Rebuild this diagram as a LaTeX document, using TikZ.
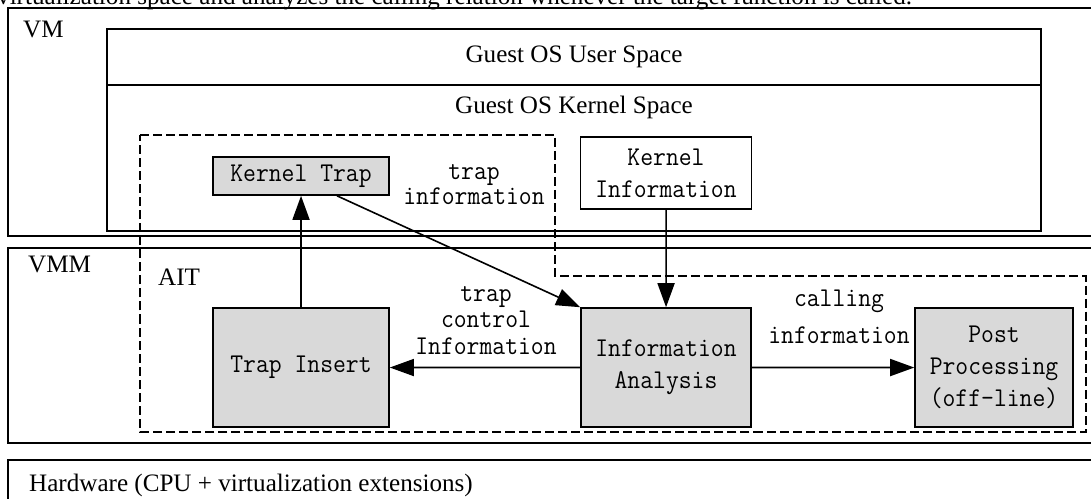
\documentclass[tikz,border=0pt]{standalone}
\usepackage{fontspec}
\setmainfont{Liberation Serif}
\setmonofont[FakeStretch=0.92]{Latin Modern Mono}
\usetikzlibrary{arrows.meta,calc}

\begin{document}
\begin{tikzpicture}[scale=0.35]
\tikzstyle{every node}+=[inner sep=0pt]
\tikzstyle{frame}=[draw=black,line width=1.6pt]
\tikzstyle{ait}=[draw=black,line width=1.4pt,dash pattern=on 9pt off 4pt]
\tikzstyle{serif}=[font=\fontsize{25}{30}\selectfont]
\tikzstyle{mono}=[font=\fontsize{27}{32}\selectfont\ttfamily,align=center]
\tikzstyle{blk}=[mono,draw=black,line width=1.6pt,fill=gray!30]
\tikzstyle{arr}=[line width=1.6pt,-{Triangle[length=24pt,width=17pt]}]
\clip (0,0) rectangle (109.1,-49.8);
% cut-off caption line
\node (cap) [serif,anchor=base west] at (-0.3,-0.45) {virtualization space and analyzes the calling relation whenever the target function is called.};
% layers
\draw [frame] (0.8,-0.8) rectangle (112,-23.6);
\node (vm) [serif,anchor=base west] at (2.3,-3.7) {VM};
\draw [frame] (10.7,-2.9) rectangle (104.1,-23.1);
\draw [frame] (10.7,-8.5) -- (104.1,-8.5);
\node (user) [serif] at (57.4,-5.7) {Guest OS User Space};
\node (kernel) [serif] at (57.4,-10.7) {Guest OS Kernel Space};
\draw [frame] (0.8,-24.8) rectangle (112,-44.3);
\node (vmm) [serif,anchor=base west] at (2.8,-27.2) {VMM};
\draw [frame] (0.8,-46) rectangle (112,-52);
\node (hw) [serif,anchor=base west] at (2.9,-49.1) {Hardware (CPU + virtualization extensions)};
% AIT region
\draw [ait] (14,-13.5) -- (55.5,-13.5) -- (55.5,-27.6) -- (108.6,-27.6) -- (108.6,-43.2) -- (14,-43.2) -- cycle;
\node (aitlbl) [serif,anchor=base west] at (15.8,-28.5) {AIT};
% blocks
\node (ktrap) [blk,minimum width=6.16cm,minimum height=1.33cm] at (30.1,-17.6) {Kernel Trap};
\node (kinfo) [blk,fill=white,minimum width=5.985cm,minimum height=2.52cm] at (66.6,-17.3) {Kernel\\Information};
\node (tins) [blk,minimum width=6.16cm,minimum height=4.165cm] at (30.1,-36.75) {Trap Insert};
\node (info) [blk,minimum width=5.95cm,minimum height=4.165cm] at (66.6,-36.75) {Information\\Analysis};
\node (post) [blk,minimum width=5.53cm,minimum height=4.165cm] at (99.4,-36.75) {Post\\Processing\\(off-line)};
% labels
\node (tinfolbl) [mono,font=\fontsize{27}{25}\selectfont\ttfamily] at (47.4,-18.45) {trap\\information};
\node (tctrl) [mono,font=\fontsize{27}{26.5}\selectfont\ttfamily] at (48.6,-32.03) {trap\\control\\Information};
\node (calllbl) [mono,font=\fontsize{27}{37}\selectfont\ttfamily] at (83.9,-31.65) {calling\\information};
% connectors
\draw [arr] (tins) -- (ktrap);
\draw [arr] ($(ktrap.south)+(3.6,0)$) -- (info.north west);
\draw [arr] (kinfo) -- (info);
\draw [arr] (info) -- (tins);
\draw [arr] (info) -- (post);
\end{tikzpicture}
\end{document}
